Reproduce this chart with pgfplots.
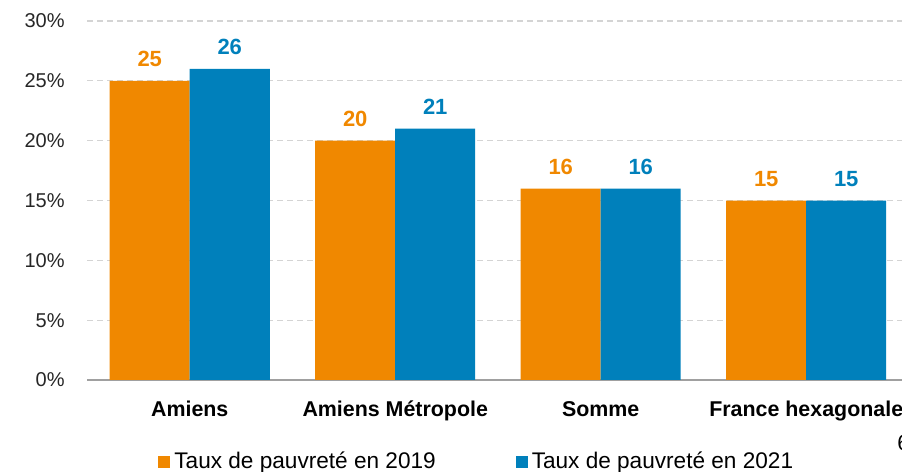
\documentclass[border=0pt]{standalone}
\usepackage{fontspec}
\setmainfont{Liberation Sans}
\usepackage{pgfplots}
\pgfplotsset{compat=1.18}
\definecolor{orng}{RGB}{240,136,0}
\definecolor{blu}{RGB}{0,128,187}
\definecolor{gridc}{RGB}{212,212,212}
\definecolor{axc}{RGB}{160,160,160}
\begin{document}
\begin{tikzpicture}
\path[use as bounding box] (0,0) rectangle (451pt,236pt);
\begin{axis}[
 at={(43.5pt,46pt)}, anchor=south west, scale only axis, width=411pt, height=179.5pt,
 xmin=-0.5, xmax=3.5, ymin=0, ymax=30,
 /pgf/number format/assume math mode=true,
 ybar=0pt, bar width=40pt,
 axis x line*=bottom, axis y line*=left,
 y axis line style={draw=none},
 x axis line style={draw=axc, line width=0.6pt},
 xtick={0,1,2,3}, xticklabels={Amiens, Amiens Métropole, Somme, France hexagonale},
 x tick label style={font=\fontsize{10.7}{13}\selectfont\bfseries, anchor=base, yshift=-14pt, inner sep=0pt},
 x tick style={draw=none},
 extra x ticks={-0.5,0.5,1.5,2.5,3.5}, extra x tick labels={},
 extra x tick style={grid=none, major tick length=3.5pt, tick align=outside, major tick style={draw=axc, line width=0.6pt}},
 ytick={0,5,...,30}, yticklabels={0\%,5\%,10\%,15\%,20\%,25\%,30\%},
 y tick label style={font=\fontsize{10}{12}\selectfont, anchor=east, inner sep=0pt, xshift=-11pt, text=black!85},
 y tick style={draw=none},
 ymajorgrids, major grid style={draw=gridc, dash pattern=on 3pt off 2pt, line width=0.6pt},
 nodes near coords,
 every node near coord/.append style={font=\fontsize{11}{13}\selectfont\bfseries, anchor=base, yshift=7pt},
 legend columns=2,
 legend style={at={(0.0864,-0.2284)}, anchor=west, draw=none, fill=none, inner sep=0pt,
   font=\fontsize{11.3}{13}\selectfont,
   /tikz/every odd column/.append style={column sep=0pt},
   /tikz/every even column/.append style={column sep=38pt}},
 legend cell align=left,
 legend image code/.code={\fill[#1] (0pt,-3pt) rectangle (6pt,3pt);},
]
\addplot[fill=orng, draw=none, every node near coord/.append style={text=orng}] coordinates {(0,25) (1,20) (2,16) (3,15)};
\addplot[fill=blu, draw=none, every node near coord/.append style={text=blu}] coordinates {(0,26) (1,21) (2,16) (3,15)};
\legend{Taux de pauvreté en 2019, Taux de pauvreté en 2021}
\end{axis}
\node[anchor=base west, font=\fontsize{11}{13}\selectfont, inner sep=0pt] at (448.5pt,10.5pt) {6};
\end{tikzpicture}
\end{document}
